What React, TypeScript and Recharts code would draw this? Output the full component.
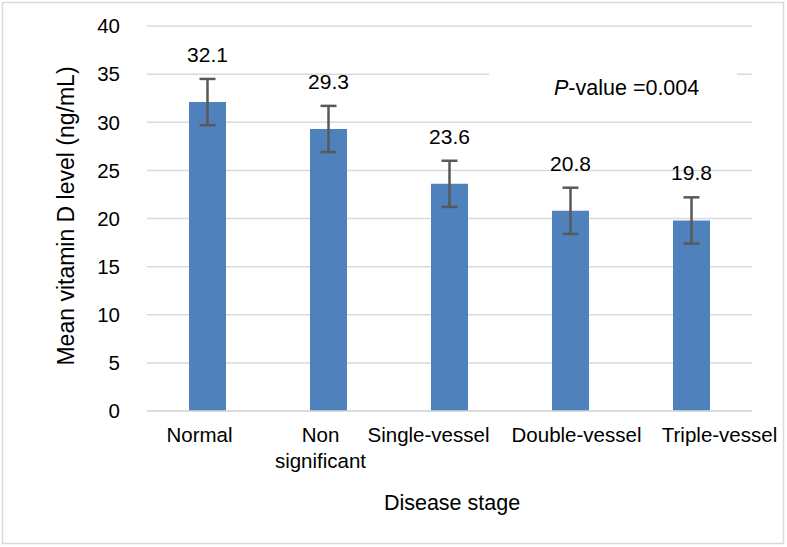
import React from 'react';
import { BarChart, Bar, XAxis, YAxis, CartesianGrid, ErrorBar, LabelList } from 'recharts';

const stages = ['Normal', 'Non significant', 'Single-vessel', 'Double-vessel', 'Triple-vessel'];
const meanLevels = [32.1, 29.3, 23.6, 20.8, 19.8];
const errors = [2.4, 2.4, 2.4, 2.4, 2.4];
const yTicks = [0, 5, 10, 15, 20, 25, 30, 35, 40];

const data = stages.map((stage, i) => ({ stage, mean: meanLevels[i], err: errors[i] }));

const FONT = '"Liberation Sans", Arial, sans-serif';

// Excel pushed the long labels sideways a little
const labelShift = [-8, -8, -21, 6, 28];

function StageTick(props: any) {
  const { x, y, payload, index } = props;
  const lines = String(payload.value).split(' ');
  return (
    <text x={x + (labelShift[index] || 0)} y={y + 29} textAnchor="middle" fontSize={20.5} fontFamily={FONT} fill="#000">
      {lines.map((line, i) => (
        <tspan key={i} x={x + (labelShift[index] || 0)} dy={i === 0 ? 0 : 26}>
          {line}
        </tspan>
      ))}
    </text>
  );
}

function ValueLabel(props: any) {
  const { x, y, width, height, value, index } = props;
  const pxPerUnit = height / value;
  const top = y - errors[index] * pxPerUnit;
  return (
    <text x={x + width / 2} y={top - 17} textAnchor="middle" fontSize={21} fontFamily={FONT} fill="#000">
      {value}
    </text>
  );
}

export default function App() {
  return (
    <div style={{ position: 'absolute', left: 0, top: 0, width: 787, height: 547, background: '#fff' }}>
      <BarChart
        width={787}
        height={547}
        data={data}
        margin={{ top: 26, right: 35, bottom: 106, left: 87 }}
      >
        <rect x={2.5} y={2.5} width={781} height={541} fill="none" stroke="#D9D9D9" strokeWidth={1.5} />
        <CartesianGrid vertical={false} stroke="#D9D9D9" strokeWidth={1.5} />
        <XAxis
          dataKey="stage"
          height={30}
          tick={<StageTick />}
          tickLine={false}
          axisLine={{ stroke: '#D9D9D9', strokeWidth: 1.5 }}
          tickSize={0}
          interval={0}
        />
        <YAxis
          width={60}
          domain={[0, 40]}
          ticks={yTicks}
          tickLine={false}
          axisLine={false}
          tickSize={0}
          tickMargin={27}
          tick={{ fontSize: 20.5, fontFamily: FONT, fill: '#000' }}
        />
        <Bar dataKey="mean" fill="#4F81BD" barSize={37} isAnimationActive={false}>
          <ErrorBar dataKey="err" width={8} stroke="#595959" strokeWidth={2.5} />
          <LabelList dataKey="mean" content={<ValueLabel />} />
        </Bar>
        <rect x={489} y={60} width={248} height={45} fill="#fff" />
        <text x={554} y={95} fontSize={21.5} fontFamily={FONT} fill="#000">
          <tspan fontStyle="italic">P</tspan>
          <tspan>-value =0.004</tspan>
        </text>
        <text x={452} y={510} textAnchor="middle" fontSize={21.5} fontFamily={FONT} fill="#000">
          Disease stage
        </text>
        <text
          x={66}
          y={216}
          transform="rotate(-90 66 216)"
          textAnchor="middle"
          dominantBaseline="central"
          fontSize={23}
          fontFamily={FONT}
          fill="#000"
        >
          Mean vitamin D level (ng/mL)
        </text>
      </BarChart>
    </div>
  );
}
